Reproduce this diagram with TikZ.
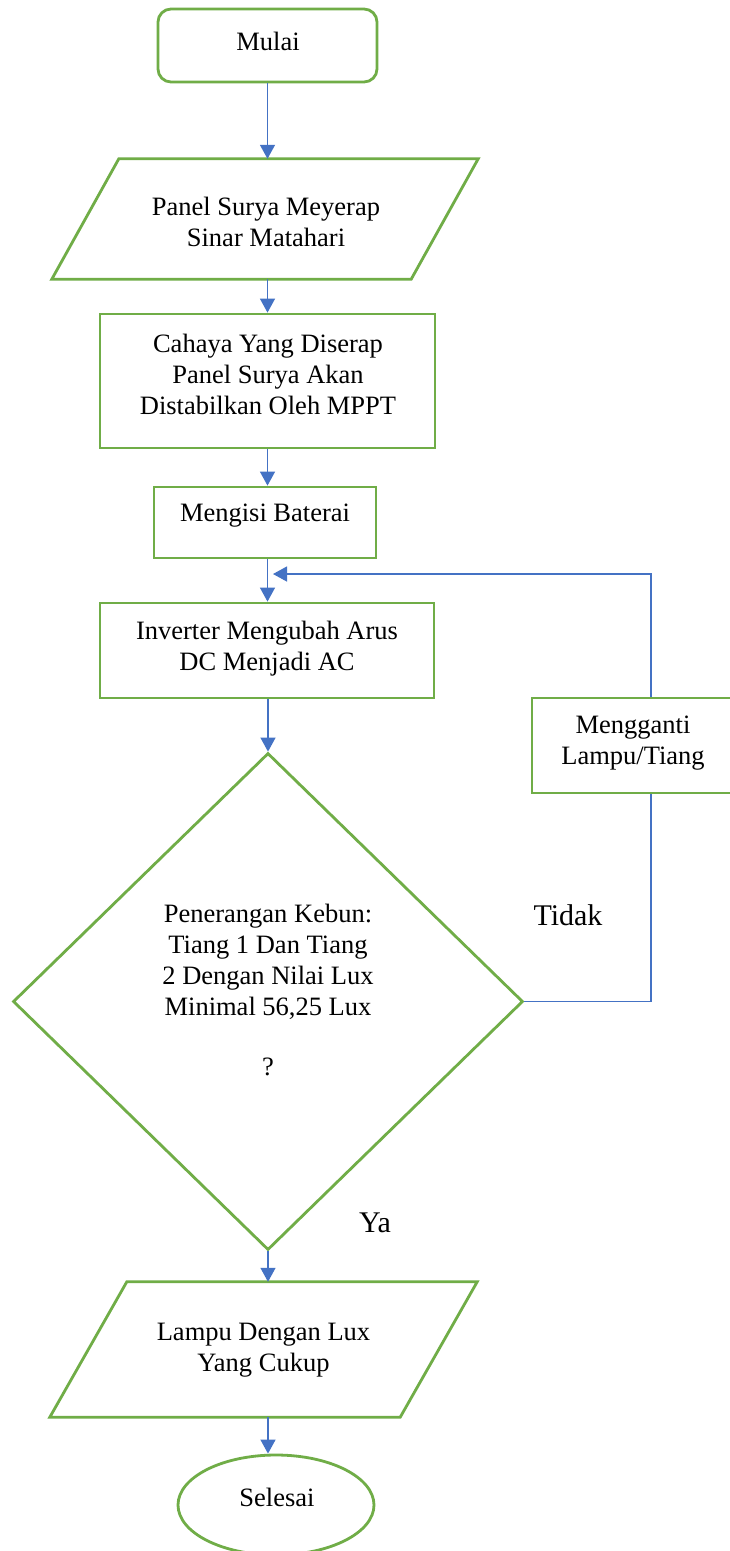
\documentclass[tikz,border=0pt]{standalone}
\usepackage{fontspec}
\setmainfont{Liberation Serif}
\usetikzlibrary{arrows.meta,shapes.geometric,calc}
\definecolor{fgreen}{RGB}{112,173,71}
\definecolor{fblue}{RGB}{68,114,196}
\begin{document}
\begin{tikzpicture}[x=1pt,y=-1pt,
  box/.style={draw=fgreen,line width=2.8pt,rectangle,inner sep=0pt},
  shapeline/.style={draw=fgreen,line width=2.8pt},
  txt/.style={align=center,font=\fontsize{26.5}{31}\selectfont,inner sep=0pt},
  big/.style={font=\fontsize{30}{36}\selectfont,inner sep=0pt},
  flow/.style={draw=fblue,line width=1.3pt,-{Triangle[width=15pt,length=14pt]}},
  link/.style={draw=fblue,line width=1.3pt}]
\useasboundingbox[fill=white] (0,0) rectangle (729,1551);

% start
\node[box,rounded corners=13pt,minimum width=219pt,minimum height=73pt] (mulai) at (267.5,45.5) {};
\node[txt] (tmulai) at (268,41) {Mulai};

% input 1
\node[inner sep=0pt,minimum width=359pt,minimum height=120pt] (p1) at (265,219) {};
\draw[shapeline] ($(p1.north west)+(33.5,0)$) -- ($(p1.north east)+(33.5,0)$) -- ($(p1.south east)+(-33.5,0)$) -- ($(p1.south west)+(-33.5,0)$) -- cycle;
\node[txt] (tp1) at (266,222) {Panel Surya Meyerap\\Sinar Matahari};

% process boxes
\node[box,minimum width=335pt,minimum height=134pt] (cahaya) at (267.5,381) {};
\node[txt] (tcahaya) at (268,374) {Cahaya Yang Diserap\\Panel Surya Akan\\Distabilkan Oleh MPPT};

\node[box,minimum width=222pt,minimum height=71pt] (mengisi) at (265,522.5) {};
\node[txt] (tmengisi) at (265,516) {Mengisi Baterai};

\node[box,minimum width=334pt,minimum height=95pt] (inv) at (267,650.5) {};
\node[txt] (tinv) at (267,649) {Inverter Mengubah Arus\\DC Menjadi AC};

\node[box,minimum width=200pt,minimum height=95pt] (mg) at (632,745.5) {};
\node[txt] (tmg) at (633,743.5) {Mengganti\\Lampu/Tiang};

% decision
\node[draw=fgreen,line width=2.8pt,diamond,minimum width=510pt,minimum height=497pt,inner sep=0pt] (dec) at (268,1001.5) {};
\node[txt] (tdec) at (268,990) {Penerangan Kebun:\\Tiang 1 Dan Tiang\\2 Dengan Nilai Lux\\Minimal 56,25 Lux\\[29pt]?};

\node[big] (tidak) at (568,915) {Tidak};
\node[big] (ya) at (375,1223) {Ya};

% output
\node[inner sep=0pt,minimum width=350pt,minimum height=135pt] (p2) at (263.5,1349.5) {};
\draw[shapeline] ($(p2.north west)+(38.5,0)$) -- ($(p2.north east)+(38.5,0)$) -- ($(p2.south east)+(-38.5,0)$) -- ($(p2.south west)+(-38.5,0)$) -- cycle;
\node[txt] (tp2) at (263.5,1350.5) {Lampu Dengan Lux\\Yang Cukup};

% end
\node[draw=fgreen,line width=2.8pt,ellipse,minimum width=196pt,minimum height=100pt,inner sep=0pt] (selesai) at (276,1505) {};
\node[txt] (tselesai) at (277,1497) {Selesai};

% connectors
\draw[flow] (mulai.south) -- (mulai.south |- p1.north);
\draw[flow] (p1.south -| cahaya.north) -- (cahaya.north);
\draw[flow] (cahaya.south) -- (cahaya.south |- mengisi.north);
\draw[flow] (mengisi.south -| cahaya.south) -- (cahaya.south |- inv.north);
\draw[flow] (inv.south -| dec.north) -- (dec.north);
\draw[flow] (dec.south) -- (dec.south |- p2.north);
\draw[flow] (p2.south -| dec.south) -- (dec.south |- selesai.north);

\coordinate (fbB) at ([xshift=19pt]mg.south);
\coordinate (fbT) at ([xshift=19pt]mg.north);
\coordinate (fbend) at (273,574);
\draw[link] (dec.east) -| (fbB);
\draw[flow] (fbT) |- (fbend);
\end{tikzpicture}
\end{document}
